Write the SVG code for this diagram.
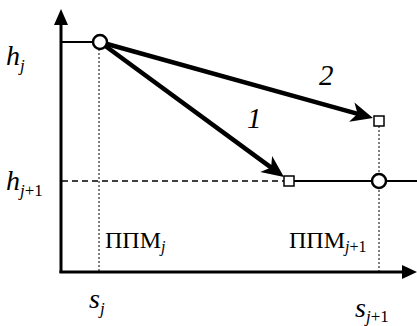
<svg xmlns="http://www.w3.org/2000/svg" width="417" height="326" viewBox="0 0 417 326">
<style>
.ax{stroke:#000;stroke-width:3;fill:none}
.thin{stroke:#000;stroke-width:2;fill:none}
.dot{stroke:#000;stroke-width:1;stroke-dasharray:2,2;fill:none}
.dash{stroke:#000;stroke-width:1.5;stroke-dasharray:6,4;fill:none}
.arr{stroke:#000;stroke-width:4.5;fill:none}
.pt{fill:#fff;stroke:#000;stroke-width:2.5}
.sq{fill:#fff;stroke:#000;stroke-width:1.5}
.lab{font-family:"Liberation Serif","Times New Roman",serif;font-style:italic;fill:#000}
.rom{font-family:"Liberation Serif","Times New Roman",serif;font-style:normal;fill:#000}
</style>
<defs>
<marker id="ah" markerUnits="userSpaceOnUse" viewBox="-12 -11 26 22" refX="0" refY="0" markerWidth="26" markerHeight="22" orient="auto">
<path d="M12,0 L-10,-10 L-4,0 L-10,10 Z" fill="#000"/>
</marker>
</defs>
<g id="axes">
<line class="ax" x1="61" y1="273" x2="61" y2="22"/>
<path d="M61,9 L54,25 L68,25 Z" fill="#000"/>
<line class="ax" x1="59.5" y1="272" x2="405" y2="272"/>
<path d="M417,272 L402,265 L402,279 Z" fill="#000"/>
</g>
<g id="guides">
<line class="thin" x1="61" y1="42" x2="93" y2="42"/>
<line class="dot" x1="99" y1="49" x2="99" y2="271"/>
<line class="dot" x1="379" y1="126" x2="379" y2="271"/>
<line class="dash" x1="62" y1="181" x2="284" y2="181"/>
<line class="thin" x1="294" y1="181" x2="372" y2="181"/>
<line class="thin" x1="386" y1="181" x2="417" y2="181"/>
</g>
<g id="connectors">
<line class="arr" x1="104" y1="45" x2="274.3" y2="169.9" marker-end="url(#ah)"/>
<line class="arr" x1="107" y1="44" x2="361.4" y2="114.8" marker-end="url(#ah)"/>
</g>
<g id="node-start"><circle class="pt" cx="100" cy="42" r="7"/></g>
<g id="node-end1"><rect class="sq" x="284" y="176" width="10" height="10"/></g>
<g id="node-end2"><rect class="sq" x="374" y="116" width="10" height="10"/></g>
<g id="node-next"><circle class="pt" cx="379" cy="181" r="7"/></g>
<g id="labels">
<text class="lab" x="6" y="65" font-size="28">h<tspan font-size="17" dy="6">j</tspan></text>
<text class="lab" x="6" y="190" font-size="28">h<tspan font-size="17" dy="6">j</tspan><tspan class="rom" font-size="17">+1</tspan></text>
<text class="lab" x="89" y="308" font-size="28">s<tspan font-size="17" dy="6">j</tspan></text>
<text class="lab" x="355" y="317" font-size="28">s<tspan font-size="17" dy="5">j</tspan><tspan class="rom" font-size="17">+1</tspan></text>
<text class="rom" x="105" y="248" font-size="24">ППМ<tspan class="lab" font-size="16" dy="4">j</tspan></text>
<text class="rom" x="289" y="248" font-size="24">ППМ<tspan class="lab" font-size="16" dy="4">j</tspan><tspan font-size="16">+1</tspan></text>
<text class="lab" x="247" y="128" font-size="29">1</text>
<text class="lab" x="319" y="85" font-size="29">2</text>
</g>
</svg>
